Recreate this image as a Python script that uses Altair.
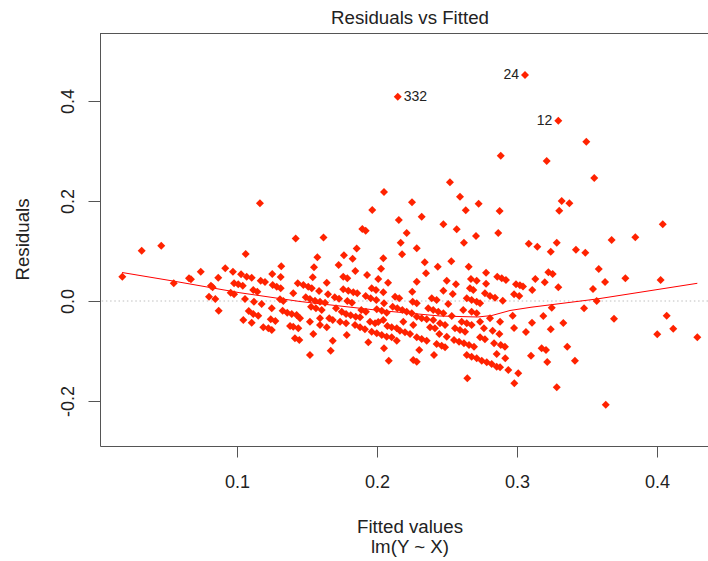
import altair as alt
import pandas as pd

fitted_a = [0.0181, 0.0319, 0.0459, 0.0548, 0.0657, 0.0671, 0.0741, 0.0800, 0.0845, 0.0814,
            0.0826, 0.0866, 0.0869, 0.0916, 0.0971, 0.1062, 0.1029, 0.1069, 0.0979, 0.1009,
            0.1041, 0.0955, 0.0979, 0.1057, 0.1084, 0.1045]
resid_a = [0.0486, 0.1006, 0.1106, 0.0354, 0.0454, 0.0434, 0.0586, 0.0086, 0.0040, 0.0306,
           0.0274, 0.0466, -0.0194, 0.0654, 0.0586, 0.0940, 0.0534, 0.0486, 0.0354, 0.0334,
           0.0306, 0.0166, 0.0134, 0.0040, -0.0200, -0.0380]

fitted_b = [0.1419, 0.1618, 0.1855, 0.1764, 0.1826, 0.2045, 0.1574, 0.1316, 0.1550, 0.1726,
            0.1845, 0.2029, 0.1252, 0.1105, 0.1169, 0.1200, 0.1312, 0.1541, 0.1759, 0.1788,
            0.1929, 0.2009, 0.2079, 0.1255, 0.1284, 0.1312, 0.1434, 0.1474, 0.1509, 0.1534,
            0.1641, 0.1586, 0.1759, 0.1795, 0.1831, 0.1859, 0.1962, 0.1993, 0.2045, 0.1116,
            0.1145, 0.1402, 0.1650, 0.1121, 0.1176, 0.1307, 0.1331, 0.1491, 0.1521, 0.1557,
            0.1593, 0.1629, 0.1698, 0.1729, 0.1788, 0.1821, 0.1919, 0.1955, 0.1995, 0.2050,
            0.1116, 0.1152, 0.1248, 0.1326, 0.1359, 0.1391, 0.1426, 0.1529, 0.1564, 0.1605,
            0.1707, 0.1748, 0.1779, 0.1812, 0.1848, 0.1888, 0.1921, 0.1998, 0.2034, 0.2069]
resid_b = [0.1250, 0.1270, 0.1050, 0.0914, 0.0846, 0.0854, 0.0874, 0.0694, 0.0674, 0.0720,
           0.0600, 0.0646, 0.0540, 0.0466, 0.0406, 0.0380, 0.0480, 0.0474, 0.0486, 0.0454,
           0.0520, 0.0440, 0.0366, 0.0320, 0.0286, 0.0254, 0.0354, 0.0320, 0.0286, 0.0254,
           0.0366, 0.0200, 0.0234, 0.0206, 0.0174, 0.0154, 0.0254, 0.0220, 0.0174, 0.0220,
           0.0186, 0.0154, 0.0134, -0.0014, -0.0060, 0.0034, 0.0000, 0.0074, 0.0040, 0.0006,
           -0.0014, -0.0034, 0.0074, 0.0046, 0.0000, -0.0034, 0.0100, 0.0054, 0.0020, -0.0046,
           -0.0260, -0.0294, -0.0146, -0.0194, -0.0234, -0.0260, -0.0280, -0.0114, -0.0146, -0.0180,
           -0.0146, -0.0214, -0.0260, -0.0286, -0.0314, -0.0180, -0.0214, -0.0166, -0.0194, -0.0234]

fitted_c = [0.1105, 0.1241, 0.1274, 0.1379, 0.1450, 0.1521, 0.1593, 0.1659, 0.1684, 0.1736,
            0.1779, 0.1879, 0.1950, 0.1986, 0.2045, 0.1188, 0.1224, 0.1641, 0.1248, 0.1402,
            0.1438, 0.1593, 0.1545, 0.1414, 0.1445, 0.1684, 0.1669, 0.1521, 0.1784, 0.1843,
            0.1879, 0.1914, 0.2009, 0.2074, 0.1962, 0.1998, 0.2034, 0.2069, 0.1938, 0.2050,
            0.2084]
resid_c = [-0.0434, -0.0366, -0.0400, -0.0500, -0.0346, -0.0414, -0.0346, -0.0346, -0.0380, -0.0414,
           -0.0446, -0.0326, -0.0414, -0.0446, -0.0380, -0.0526, -0.0546, -0.0526, -0.0580, -0.0514,
           -0.0546, -0.0480, -0.0660, -0.0746, -0.0780, -0.0794, -0.0994, -0.1080, -0.0680, -0.0480,
           -0.0526, -0.0566, -0.0420, -0.0500, -0.0614, -0.0646, -0.0680, -0.0714, -0.0826, -0.0946,
           -0.1194]

fitted_d = [0.2169, 0.2284, 0.2621, 0.2179, 0.2341, 0.2434, 0.2531, 0.2655, 0.2350, 0.2779,
            0.2859, 0.2891, 0.2921, 0.2284, 0.2498, 0.2564, 0.2671, 0.2712, 0.2779, 0.2252,
            0.2474, 0.2664, 0.2688, 0.2541, 0.2771, 0.2807, 0.2843, 0.2129, 0.2159, 0.2391,
            0.2426, 0.2255, 0.2284, 0.2641, 0.2676, 0.2712, 0.2736, 0.2898, 0.2509, 0.2112,
            0.2145, 0.2181, 0.2212, 0.2248, 0.2366, 0.2402, 0.2438, 0.2474, 0.2616, 0.2676,
            0.2712, 0.2284, 0.2319, 0.2355, 0.2402, 0.2534, 0.2807, 0.2188, 0.2605, 0.2641,
            0.2676, 0.2736, 0.2879, 0.2105, 0.2141, 0.2259, 0.2379, 0.2414]
resid_d = [0.1166, 0.1054, 0.1166, 0.0934, 0.0774, 0.0686, 0.0794, 0.0686, 0.0554, 0.0566,
           0.0486, 0.0454, 0.0420, 0.0386, 0.0406, 0.0334, 0.0440, 0.0406, 0.0346, 0.0186,
           0.0206, 0.0254, 0.0220, 0.0140, 0.0154, 0.0100, 0.0066, 0.0086, 0.0054, 0.0054,
           0.0020, -0.0014, -0.0046, 0.0054, 0.0020, -0.0014, -0.0046, 0.0006, -0.0060, -0.0114,
           -0.0146, -0.0180, -0.0214, -0.0246, -0.0146, -0.0180, -0.0214, -0.0246, -0.0180, -0.0214,
           -0.0246, -0.0314, -0.0346, -0.0366, -0.0380, -0.0300, -0.0346, -0.0414, -0.0414, -0.0446,
           -0.0480, -0.0414, -0.0414, -0.0526, -0.0546, -0.0480, -0.0526, -0.0546]

fitted_e = [0.2164, 0.2200, 0.2236, 0.2450, 0.2486, 0.2445, 0.2498, 0.2557, 0.2593, 0.2629,
            0.2764, 0.2826, 0.2874, 0.2105, 0.2141, 0.2284, 0.2319, 0.2355, 0.2426, 0.2462,
            0.2486, 0.2550, 0.2586, 0.2621, 0.2657, 0.2693, 0.2736, 0.2771, 0.2836, 0.2884,
            0.2914, 0.2302, 0.2407, 0.2641, 0.2676, 0.2712, 0.2748, 0.2784, 0.2819, 0.2855,
            0.2916, 0.2259, 0.2284, 0.2855, 0.2879, 0.2938, 0.2645]
resid_e = [-0.0594, -0.0626, -0.0660, -0.0446, -0.0480, -0.0660, -0.0714, -0.0546, -0.0580, -0.0614,
           -0.0546, -0.0594, -0.0660, -0.0726, -0.0794, -0.0726, -0.0760, -0.0794, -0.0860, -0.0894,
           -0.0926, -0.0780, -0.0814, -0.0846, -0.0880, -0.0914, -0.0726, -0.0766, -0.0846, -0.0880,
           -0.0914, -0.0980, -0.1080, -0.1080, -0.1114, -0.1146, -0.1194, -0.1226, -0.1260, -0.1060,
           -0.1146, -0.1180, -0.1214, -0.1314, -0.1326, -0.1380, -0.1546]

fitted_f = [0.3319, 0.3374, 0.3302, 0.4041, 0.3845, 0.3676, 0.3084, 0.3145, 0.3284, 0.3241,
            0.3421, 0.3488, 0.3584, 0.3224, 0.3255, 0.3131, 0.3198, 0.3774, 0.4026, 0.3629,
            0.2993, 0.3021, 0.3043, 0.3295, 0.3109, 0.3543, 0.2979, 0.3016, 0.3569, 0.3248,
            0.3479, 0.2969, 0.3188, 0.3693, 0.4069, 0.2979, 0.3107, 0.3064, 0.3241, 0.3331,
            0.4002, 0.4116, 0.4288, 0.3176, 0.3207, 0.3359, 0.3100, 0.3216, 0.3414, 0.3009,
            0.2981, 0.3284, 0.3634]
resid_f = [0.2000, 0.1954, 0.1806, 0.1534, 0.1274, 0.1220, 0.1146, 0.1086, 0.1166, 0.0986,
           0.1026, 0.0966, 0.0640, 0.0574, 0.0540, 0.0440, 0.0374, 0.0454, 0.0420, 0.0380,
           0.0334, 0.0314, 0.0290, 0.0274, 0.0220, 0.0240, 0.0134, 0.0100, 0.0000, -0.0134,
           -0.0146, -0.0294, -0.0300, -0.0354, -0.0294, -0.0540, -0.0434, -0.0620, -0.0566, -0.0440,
           -0.0666, -0.0554, -0.0726, -0.0946, -0.0980, -0.0914, -0.1094, -0.1220, -0.1194, -0.1446,
           -0.1646, -0.1726, -0.2074]

fitted_g = [0.2050, 0.1164, 0.1966, 0.2156, 0.1895, 0.1919, 0.2148, 0.3057, 0.3295, 0.3495,
            0.2884, 0.3212, 0.3552, 0.2521, 0.2250, 0.2593, 0.2726, 0.2634, 0.2876, 0.2319,
            0.2474, 0.2569, 0.2212, 0.2707, 0.2866]
resid_g = [0.2180, 0.1954, 0.1820, 0.1620, 0.1440, 0.1406, 0.4086, 0.4520, 0.3606, 0.3186,
           0.2906, 0.2800, 0.2460, 0.2374, 0.1974, 0.2086, 0.1946, 0.1814, 0.1800, 0.1686,
           0.1534, 0.1434, 0.1360, 0.1300, 0.1360]

# ---- labelled observations ----
label_ids = ["332", "24", "12"]
label_fitted = [0.2148, 0.3057, 0.3295]
label_resid = [0.4086, 0.4520, 0.3606]

# ---- smoother (red line) ----
smooth_fitted = [0.0179, 0.0543, 0.1021, 0.1450, 0.2021, 0.2450, 0.2720, 0.2820, 0.2950, 0.3100, 0.3570, 0.4288]
smooth_resid = [0.0570, 0.0400, 0.0165, -0.0010, -0.0190, -0.0300, -0.0320, -0.0290, -0.0190, -0.0125, 0.0040, 0.0354]

x_ticks = [0.1, 0.2, 0.3, 0.4]
y_ticks = [-0.2, 0.0, 0.2, 0.4]

title_text = "Residuals vs Fitted"
x_title = "Fitted values"
sub_title = "lm(Y ~ X)"
y_title = "Residuals"

# ---------------------------------------------------------------------------
fitted = fitted_a + fitted_b + fitted_c + fitted_d + fitted_e + fitted_f + fitted_g
resid = resid_a + resid_b + resid_c + resid_d + resid_e + resid_f + resid_g
points_df = pd.DataFrame({"fitted": fitted, "resid": resid})
smooth_df = pd.DataFrame({"fitted": smooth_fitted, "resid": smooth_resid, "o": list(range(len(smooth_fitted)))})
labels_df = pd.DataFrame({"fitted": label_fitted, "resid": label_resid, "id": label_ids})

FONT = "Liberation Sans"
AX = "#555555"
RED_PT = "#ff2200"
W, H = 608, 413

xs = alt.Scale(domain=[0.002143, 0.436429], nice=False, zero=False)
ys = alt.Scale(domain=[-0.29, 0.536], nice=False, zero=False)

x_axis = alt.Axis(values=x_ticks, format=".1f", title=None, grid=False,
                  tickSize=11, labelPadding=30, labelBaseline="alphabetic",
                  labelFontSize=18, labelFlush=False, labelOverlap=False)
y_axis = alt.Axis(values=y_ticks, title=None, grid=False,
                  labelExpr="datum.value < 0 ? '-' + format(-datum.value, '.1f') : format(datum.value, '.1f')",
                  tickSize=12, labelPadding=15, labelAngle=270, labelAlign="center",
                  labelBaseline="alphabetic", labelFontSize=18, labelFlush=False, labelOverlap=False)

X = alt.X("fitted:Q", scale=xs, axis=x_axis)
Y = alt.Y("resid:Q", scale=ys, axis=y_axis)

zero_line = alt.Chart(pd.DataFrame({"resid": [0.0]})).mark_rule(
    color="#bebebe", strokeWidth=1, strokeDash=[1.5, 2.7]
).encode(y=Y)

smooth = alt.Chart(smooth_df).mark_line(color="#ff0000", strokeWidth=1).encode(
    x=X, y=Y, order="o:Q")

pts = alt.Chart(points_df).mark_point(
    shape="diamond", filled=True, size=64, color=RED_PT, opacity=1, strokeWidth=0
).encode(x=X, y=Y)

lab_right = alt.Chart(labels_df).transform_filter(alt.datum.id == "332").mark_text(
    align="left", baseline="middle", dx=6, fontSize=14, font=FONT, color="#222222"
).encode(x=X, y=Y, text="id:N")
lab_left = alt.Chart(labels_df).transform_filter(alt.datum.id != "332").mark_text(
    align="right", baseline="middle", dx=-6, fontSize=14, font=FONT, color="#222222"
).encode(x=X, y=Y, text="id:N")

one = pd.DataFrame({"k": [0]})
top_border = alt.Chart(one).mark_rule(color=AX, strokeWidth=1).encode(
    x=alt.value(0), x2=alt.value(W), y=alt.value(0.5))

def txt(s, x, y, angle=0):
    return alt.Chart(one).mark_text(
        text=s, align="center", baseline="alphabetic", fontSize=18.7, font=FONT,
        color="#222222", angle=angle
    ).encode(x=alt.value(x), y=alt.value(y))

t_main = txt(title_text, 310, -9)
t_x = txt(x_title, 310, 500.3)
t_sub = txt(sub_title, 310, 519.5)
t_y = txt(y_title, -71.5, 206.5, angle=270)

chart = alt.layer(
    zero_line, smooth, pts, lab_right, lab_left, top_border, t_main, t_x, t_sub, t_y
).properties(
    width=W, height=H,
    padding={"left": 100, "top": 33, "right": 0, "bottom": 115},
    autosize=alt.AutoSizeParams(type="none"),
    background="white",
).configure_view(stroke=None).configure_axis(
    domainColor=AX, tickColor=AX, labelColor="#222222", labelFont=FONT,
    domainWidth=1, tickWidth=1
)

chart.save("out.html", embed_options={"renderer": "svg", "actions": False})
